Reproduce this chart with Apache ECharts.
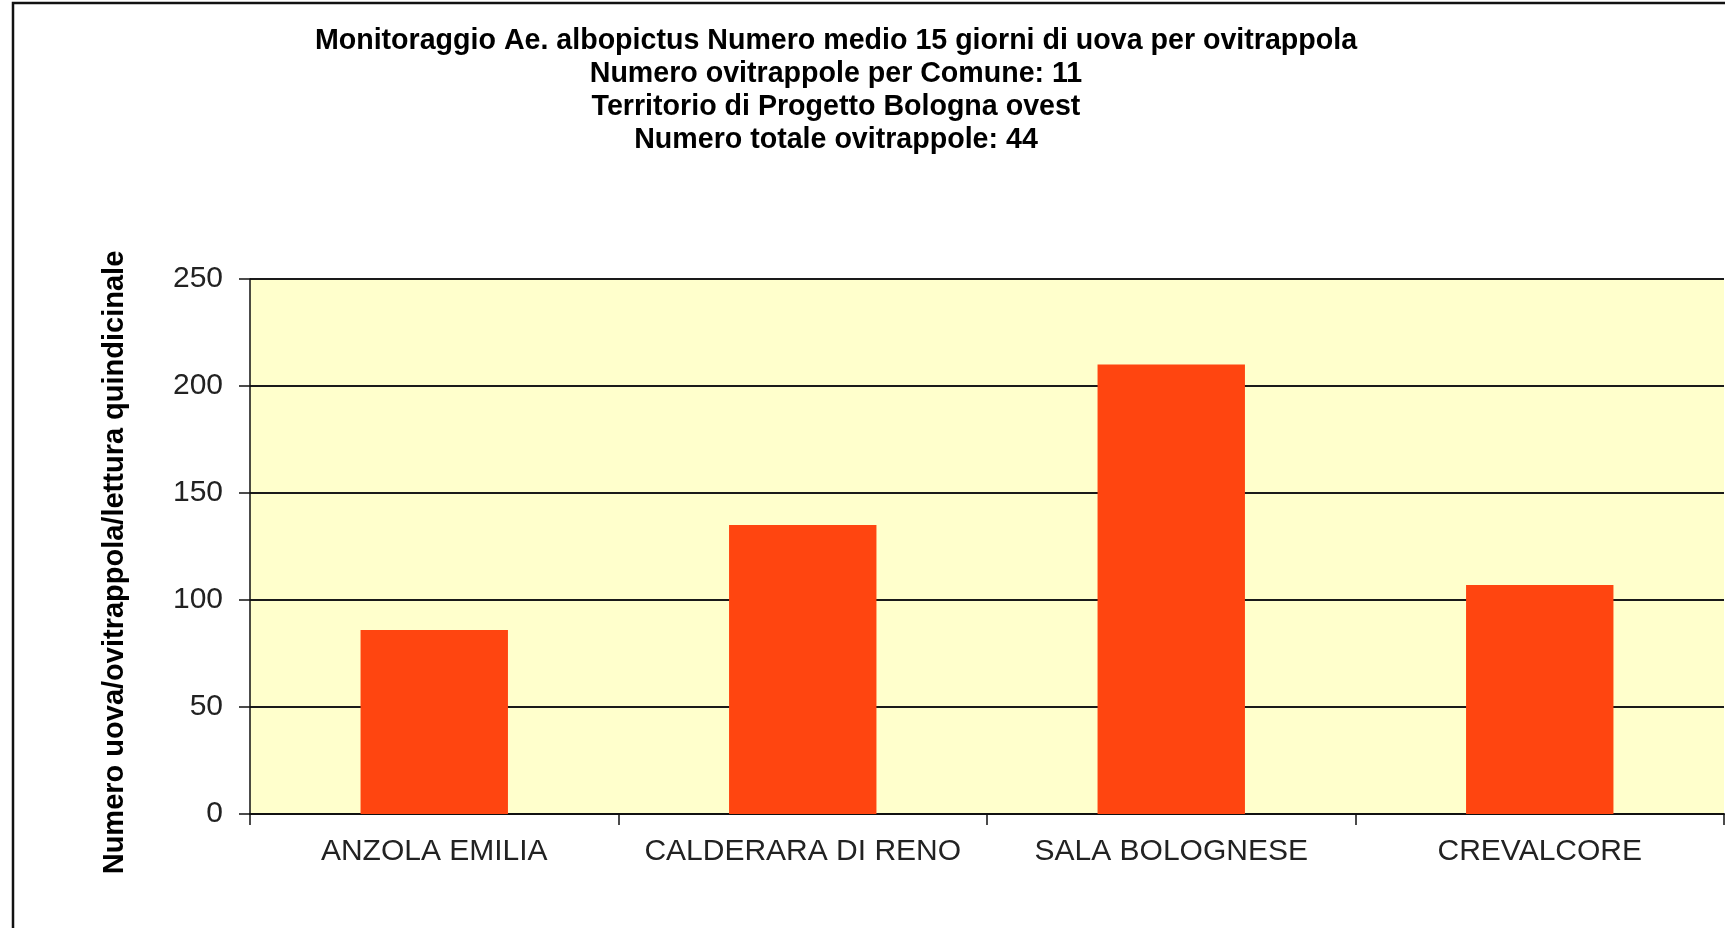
<!DOCTYPE html>
<html>
<head>
<meta charset="utf-8">
<title>Monitoraggio Ae. albopictus</title>
<script src="https://cdn.jsdelivr.net/npm/echarts@6/dist/echarts.min.js"></script>
<style>
	html, body { margin: 0; padding: 0; background: #fff; }
	#root { width: 1725px; height: 928px; }
</style>
</head>
<body>
<div id="root"></div>
<script>
// values
var comuni = [ 'ANZOLA EMILIA', 'CALDERARA DI RENO', 'SALA BOLOGNESE', 'CREVALCORE' ];
var mediaUova = [ 86, 135, 210, 107 ];
var titleLines = [
	'Monitoraggio Ae. albopictus Numero medio 15 giorni di uova per ovitrappola',
	'Numero ovitrappole per Comune: 11',
	'Territorio di Progetto Bologna ovest',
	'Numero totale ovitrappole: 44'
];
var yName = 'Numero uova/ovitrappola/lettura quindicinale';

var font = '"Liberation Sans", Arial, sans-serif';
var chart = echarts.init( document.getElementById( 'root' ) );

var option = {
	backgroundColor: '#ffffff',
	animation: false,
	title: {
		text: titleLines.join( '\n' ),
		left: 836,
		top: 25,
		padding: 0,
		textAlign: 'center',
		textStyle: {
			fontFamily: font,
			fontSize: 28.6,
			fontWeight: 'bold',
			lineHeight: 33,
			color: '#000'
		}
	},
	graphic: [
		{
			type: 'rect',
			shape: { x: 13, y: 3, width: 1740, height: 940 },
			style: { fill: 'none', stroke: '#111', lineWidth: 2.5 },
			silent: true
		}
	],
	grid: {
		left: 250,
		right: 1,
		top: 279,
		bottom: 114,
		show: true,
		backgroundColor: '#FFFFCC',
		borderWidth: 0
	},
	xAxis: {
		type: 'category',
		data: comuni,
		axisLine: { lineStyle: { color: '#111', width: 2 } },
		axisTick: { show: true, interval: 0, length: 11, lineStyle: { color: '#111', width: 1.5 } },
		axisLabel: {
			interval: 0,
			margin: 23,
			fontFamily: font,
			fontSize: 30,
			color: '#222'
		}
	},
	yAxis: {
		type: 'value',
		min: 0,
		max: 250,
		interval: 50,
		name: yName,
		nameLocation: 'middle',
		nameGap: 121,
		nameTextStyle: {
			fontFamily: font,
			fontSize: 29,
			fontWeight: 'bold',
			color: '#000',
			padding: [ 0, 32, 0, 0 ]
		},
		axisLine: { show: true, lineStyle: { color: '#111', width: 1.5 } },
		axisTick: { show: true, length: 11, lineStyle: { color: '#111', width: 1.5 } },
		axisLabel: {
			margin: 27,
			fontFamily: font,
			fontSize: 30,
			color: '#222'
		},
		splitLine: { show: true, lineStyle: { color: '#1a1a1a', width: 1.8 } }
	},
	series: [
		{
			type: 'bar',
			data: mediaUova,
			barWidth: '40%',
			itemStyle: { color: '#FF4510' }
		}
	]
};

chart.setOption( option );
</script>
</body>
</html>
